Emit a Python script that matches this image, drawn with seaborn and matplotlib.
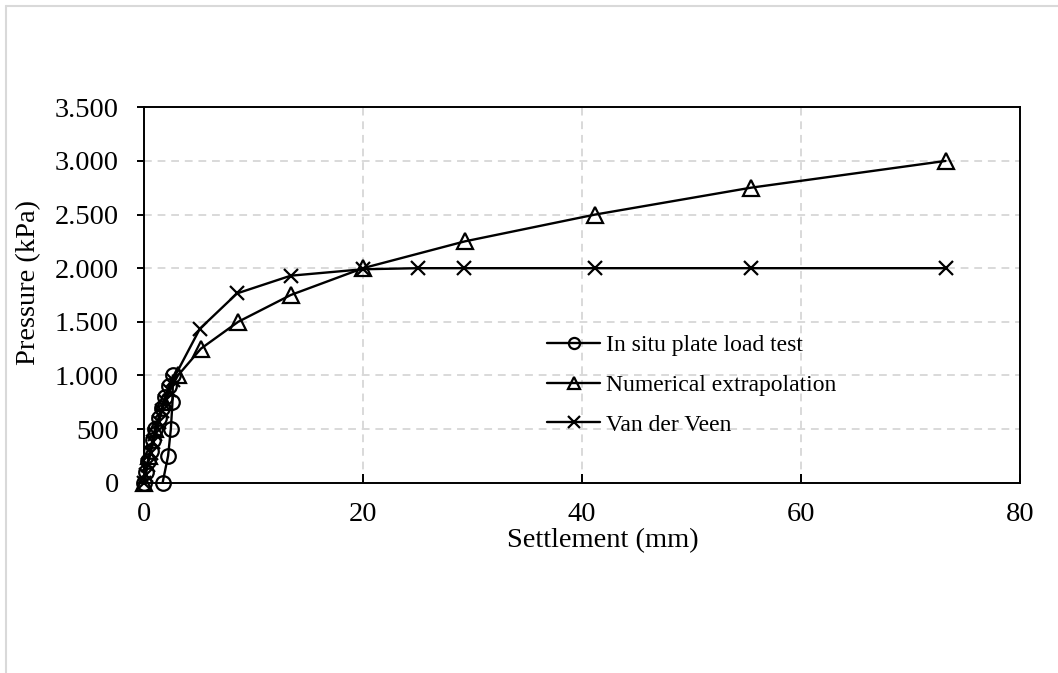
import matplotlib
matplotlib.use("Agg")
import matplotlib.pyplot as plt
from matplotlib.lines import Line2D
import seaborn as sns
import pandas as pd

# ---- data ----
insitu_settlement = [0, 0.15, 0.35, 0.6, 0.85, 1.05, 1.35, 1.65, 1.95, 2.3, 2.65, 2.6, 2.45, 2.2, 1.7]
insitu_pressure = [0, 100, 200, 300, 400, 500, 600, 700, 800, 900, 1000, 750, 500, 250, 0]

numerical_settlement = [0, 0.45, 1.0, 1.8, 3.1, 5.2, 8.6, 13.4, 20.0, 29.3, 41.2, 55.4, 73.2]
numerical_pressure = [0, 250, 500, 750, 1000, 1250, 1500, 1750, 2000, 2250, 2500, 2750, 3000]

vdv_settlement = [0, 0.15, 0.35, 0.6, 0.85, 1.05, 1.35, 1.65, 1.95, 2.3, 2.65,
                  5.1, 8.5, 13.4, 20.0, 25.0, 29.2, 41.2, 55.4, 73.2]
vdv_pressure = [0, 75, 165, 275, 380, 455, 565, 670, 765, 865, 960,
                1435, 1765, 1930, 1990, 2000, 2000, 2000, 2000, 2000]

series_names = ["In situ plate load test", "Numerical extrapolation", "Van der Veen"]
x_ticks = [0, 20, 40, 60, 80]
y_ticks = [0, 500, 1000, 1500, 2000, 2500, 3000, 3500]
y_tick_labels = ["0", "500", "1.000", "1.500", "2.000", "2.500", "3.000", "3.500"]
x_label = "Settlement (mm)"
y_label = "Pressure (kPa)"

# ---- style ----
sns.set_style("ticks")
plt.rcParams["font.family"] = ["Liberation Serif", "DejaVu Serif"]

fig = plt.figure(figsize=(10.58, 6.73), dpi=100)
W, H = 1058, 673
left, right, top, bottom = 144, 1020, 107.3, 482.7
ax = fig.add_axes([left / W, 1 - bottom / H, (right - left) / W, (bottom - top) / H])

common = dict(color="black", linewidth=1.7, markerfacecolor="none",
              markeredgecolor="black", markeredgewidth=1.6, sort=False,
              estimator=None, ax=ax, clip_on=False)

df1 = pd.DataFrame({"s": insitu_settlement, "p": insitu_pressure})
df2 = pd.DataFrame({"s": numerical_settlement, "p": numerical_pressure})
df3 = pd.DataFrame({"s": vdv_settlement, "p": vdv_pressure})

sns.lineplot(data=df1, x="s", y="p", marker="o", markersize=10.5, label=series_names[0], **common)
sns.lineplot(data=df2, x="s", y="p", marker="^", markersize=11, label=series_names[1], **common)
sns.lineplot(data=df3, x="s", y="p", marker="x", markersize=10, label=series_names[2], **common)

ax.set_xlim(0, 80)
ax.set_ylim(0, 3500)
ax.set_xticks(x_ticks)
ax.set_yticks(y_ticks)
ax.set_yticklabels(y_tick_labels)

ax.grid(True, color="#d9d9d9", linestyle=(0, (4, 3)), linewidth=1.4)
ax.set_axisbelow(True)

for sp in ax.spines.values():
    sp.set_color("black")
    sp.set_linewidth(1.4)

ax.tick_params(axis="x", direction="in", length=6.5, width=1.4, pad=14,
               labelsize=20.5, colors="black")
ax.tick_params(axis="y", direction="out", length=5, width=1.4, pad=13,
               labelsize=20.5, colors="black")

ax.set_xlabel(x_label, fontsize=20.5, color="black")
ax.set_ylabel(y_label, fontsize=20.5, color="black")
ax.xaxis.set_label_coords(0.524, -0.12)
ax.yaxis.set_label_coords(-0.118, 0.532)

leg = ax.legend(loc="center left", bbox_to_anchor=((547 - left) / (right - left), (bottom - 385) / (bottom - top)),
                frameon=False, fontsize=17, handlelength=2.25, handletextpad=0.25,
                labelspacing=0.78, borderpad=0, borderaxespad=0)
for t in leg.get_texts():
    t.set_color("black")
for h in leg.legend_handles:
    h.set_markersize(8)
    h.set_linewidth(1.7)

# light gray outer border (top and left edges of the chart area)
fig.add_artist(Line2D([6 / W, 6 / W], [0, 1 - 6 / H], color="#d9d9d9", linewidth=1.5,
                      transform=fig.transFigure))
fig.add_artist(Line2D([6 / W, 1], [1 - 6 / H, 1 - 6 / H], color="#d9d9d9", linewidth=1.5,
                      transform=fig.transFigure))

fig.savefig("out.png", dpi=100)
